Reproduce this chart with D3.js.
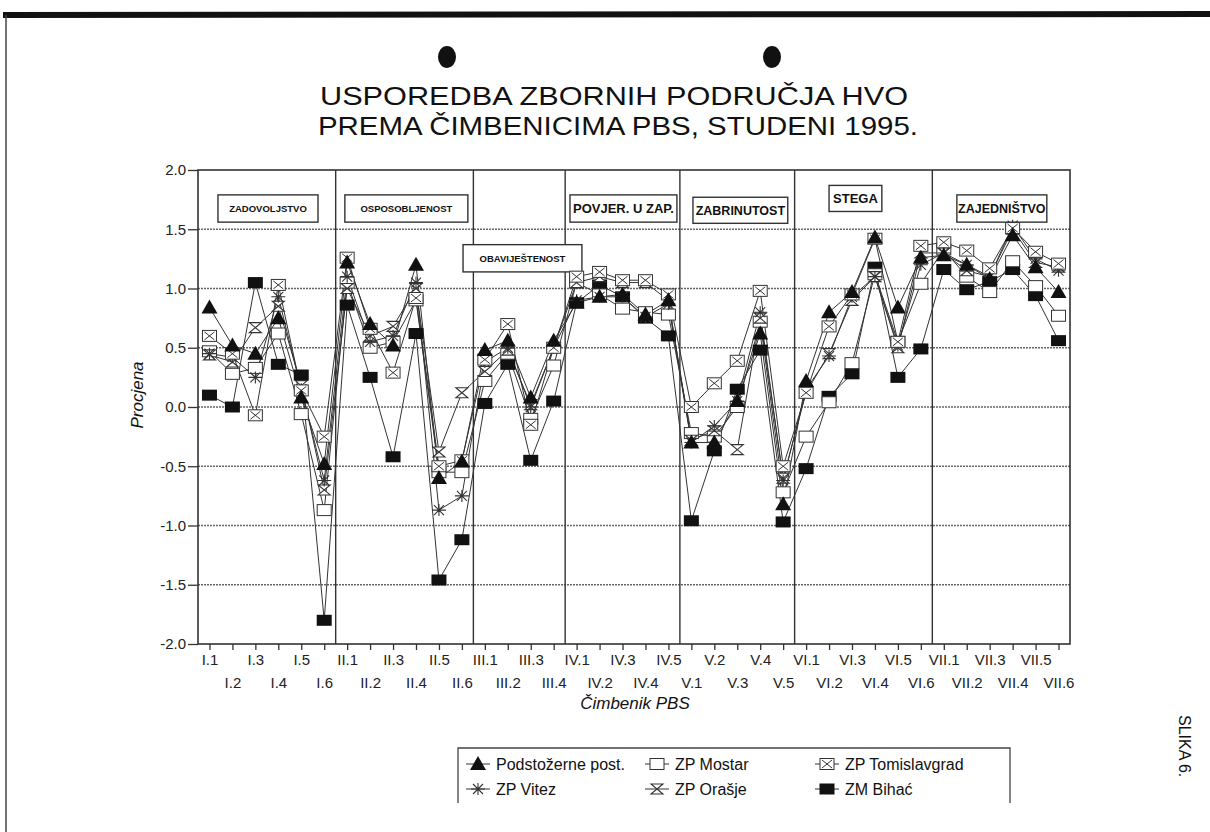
<!DOCTYPE html>
<html>
<head>
<meta charset="utf-8">
<script src="https://d3js.org/d3.v7.min.js"></script>
<style>
  body { margin: 0; background: #fff; }
  svg { font-family: "Liberation Sans", Arial, sans-serif; }
</style>
</head>
<body>
<div id="chart"></div>
<script>
// categories (factors) and sections
var sections = [
  { name: "ZADOVOLJSTVO", roman: "I", n: 6 },
  { name: "OSPOSOBLJENOST", roman: "II", n: 6 },
  { name: "OBAVIJEŠTENOST", roman: "III", n: 4 },
  { name: "POVJER. U ZAP.", roman: "IV", n: 5 },
  { name: "ZABRINUTOST", roman: "V", n: 5 },
  { name: "STEGA", roman: "VI", n: 6 },
  { name: "ZAJEDNIŠTVO", roman: "VII", n: 6 }
];

var categories = [
  "I.1", "I.2", "I.3", "I.4", "I.5", "I.6",
  "II.1", "II.2", "II.3", "II.4", "II.5", "II.6",
  "III.1", "III.2", "III.3", "III.4",
  "IV.1", "IV.2", "IV.3", "IV.4", "IV.5",
  "V.1", "V.2", "V.3", "V.4", "V.5",
  "VI.1", "VI.2", "VI.3", "VI.4", "VI.5", "VI.6",
  "VII.1", "VII.2", "VII.3", "VII.4", "VII.5", "VII.6"
];

var yTicks = [2.0, 1.5, 1.0, 0.5, 0.0, -0.5, -1.0, -1.5, -2.0];

// series values
var podstozerne = [0.84, 0.52, 0.45, 0.75, 0.08, -0.48, 1.22, 0.70, 0.52, 1.20, -0.60, -0.46, 0.48, 0.56, 0.08, 0.56,
  0.88, 0.93, 0.95, 0.78, 0.90, -0.30, -0.30, 0.05, 0.62, -0.82, 0.22, 0.80, 0.97, 1.43, 0.84, 1.26,
  1.28, 1.20, 1.08, 1.45, 1.18, 0.97];
var vitez = [0.45, 0.42, 0.25, 0.93, 0.15, -0.62, 1.10, 0.55, 0.60, 1.05, -0.87, -0.75, 0.38, 0.50, 0.00, 0.50,
  0.90, 0.93, 0.93, 0.76, 0.87, -0.30, -0.16, 0.05, 0.80, -0.62, 0.15, 0.43, 0.93, 1.10, 0.52, 1.20,
  1.30, 1.20, 1.10, 1.53, 1.25, 1.15];
var mostar = [0.47, 0.28, 0.33, 0.62, -0.06, -0.87, 1.05, 0.50, 0.55, 0.90, -0.55, -0.55, 0.22, 0.45, -0.10, 0.35,
  1.05, 0.95, 0.83, 0.80, 0.78, -0.22, -0.25, 0.00, 0.72, -0.72, -0.25, 0.04, 0.37, 1.12, 0.55, 1.04,
  1.33, 1.10, 0.97, 1.23, 1.02, 0.77];
var orasje = [0.44, 0.38, 0.67, 0.85, 0.18, -0.70, 1.00, 0.60, 0.68, 1.00, -0.38, 0.12, 0.30, 0.48, 0.02, 0.50,
  1.05, 1.10, 1.05, 1.05, 0.90, -0.28, -0.20, -0.36, 0.75, -0.60, 0.12, 0.45, 0.90, 1.10, 0.50, 1.30,
  1.30, 1.15, 1.10, 1.50, 1.22, 1.18];
var tomislavgrad = [0.60, 0.45, -0.07, 1.03, 0.14, -0.25, 1.26, 0.66, 0.29, 0.92, -0.50, -0.45, 0.40, 0.70, -0.15, 0.50,
  1.10, 1.14, 1.07, 1.07, 0.95, 0.00, 0.20, 0.39, 0.98, -0.50, 0.12, 0.68, 0.95, 1.42, 0.55, 1.36,
  1.39, 1.32, 1.17, 1.51, 1.31, 1.21];
var bihac = [0.10, 0.00, 1.05, 0.36, 0.27, -1.80, 0.86, 0.25, -0.42, 0.62, -1.46, -1.12, 0.03, 0.36, -0.45, 0.05,
  0.88, 1.03, 0.93, 0.75, 0.60, -0.96, -0.37, 0.15, 0.48, -0.97, -0.52, 0.09, 0.28, 1.18, 0.25, 0.49,
  1.16, 0.99, 1.06, 1.16, 0.94, 0.56];

var seriesNames = ["Podstožerne post.", "ZP Vitez", "ZP Mostar", "ZP Orašje", "ZP Tomislavgrad", "ZM Bihać"];
var seriesValues = [podstozerne, vitez, mostar, orasje, tomislavgrad, bihac];
var seriesMarks = ["triangle", "asterisk", "square", "hourglass", "xsquare", "filled"];

// layout
var W = 1210, H = 832;
var plot = { left: 198, right: 1070, top: 170, bottom: 644 };

var svg = d3.select("#chart").append("svg")
  .attr("width", W).attr("height", H);

// scanned page edges
svg.append("line").attr("x1", 3).attr("x2", W).attr("y1", 15).attr("y2", 14)
  .attr("stroke", "#111").attr("stroke-width", 6);
svg.append("line").attr("x1", 6).attr("x2", 6).attr("y1", 15).attr("y2", H)
  .attr("stroke", "#444").attr("stroke-width", 1.5);

// punch holes
[447, 772].forEach(function(cx) {
  svg.append("ellipse").attr("cx", cx).attr("cy", 57).attr("rx", 9).attr("ry", 11).attr("fill", "#111");
});

// title (squeezed to the scanned width)
svg.append("text").attr("x", 320).attr("y", 105).attr("textLength", 588)
  .attr("lengthAdjust", "spacingAndGlyphs").style("font-size", "26px").attr("fill", "#111")
  .text("USPOREDBA ZBORNIH PODRUČJA HVO");
svg.append("text").attr("x", 318).attr("y", 135).attr("textLength", 600)
  .attr("lengthAdjust", "spacingAndGlyphs").style("font-size", "26px").attr("fill", "#111")
  .text("PREMA ČIMBENICIMA PBS, STUDENI 1995.");

// scales
var xScale = d3.scalePoint().domain(categories).range([plot.left, plot.right]).padding(0.5);
var yScale = d3.scaleLinear().domain([-2, 2]).range([plot.bottom, plot.top]);
var step = xScale.step();

// gridlines
svg.append("g").selectAll("line")
  .data(yTicks.filter(function(d) { return d > -2 && d < 2; }))
  .enter().append("line")
  .attr("x1", plot.left).attr("x2", plot.right)
  .attr("y1", function(d) { return yScale(d); })
  .attr("y2", function(d) { return yScale(d); })
  .attr("stroke", "#666").attr("stroke-width", 1.6).attr("stroke-dasharray", "2,1");

// section dividers
var start = 0;
var dividers = [];
sections.forEach(function(s, i) {
  start += s.n;
  if (i < sections.length - 1) dividers.push(start);
});
svg.append("g").selectAll("line").data(dividers).enter().append("line")
  .attr("x1", function(d) { return xScale(categories[d]) - step / 2; })
  .attr("x2", function(d) { return xScale(categories[d]) - step / 2; })
  .attr("y1", plot.top).attr("y2", plot.bottom)
  .attr("stroke", "#333").attr("stroke-width", 1.4);

// frame
svg.append("rect").attr("x", plot.left).attr("y", plot.top)
  .attr("width", plot.right - plot.left).attr("height", plot.bottom - plot.top)
  .attr("fill", "none").attr("stroke", "#333").attr("stroke-width", 1.6);

// section label boxes: [x0, x1] in category steps from first point, [y0, y1] in values
var boxes = [
  { i: 0, x: [0.37, 4.73], y: [1.79, 1.56], size: 9.5 },
  { i: 1, x: [5.9, 11.26], y: [1.79, 1.56], size: 9.5 },
  { i: 2, x: [11.05, 16.23], y: [1.37, 1.14], size: 9.5 },
  { i: 3, x: [15.71, 20.37], y: [1.79, 1.56], size: 13 },
  { i: 4, x: [21.07, 25.2], y: [1.77, 1.55], size: 12.5 },
  { i: 5, x: [27.0, 29.3], y: [1.87, 1.65], size: 13 },
  { i: 6, x: [32.57, 36.49], y: [1.79, 1.56], size: 12.5 }
];
var x0 = xScale(categories[0]);
var boxG = svg.append("g").selectAll("g").data(boxes).enter().append("g");
boxG.append("rect")
  .attr("x", function(d) { return x0 + d.x[0] * step; })
  .attr("y", function(d) { return yScale(d.y[0]); })
  .attr("width", function(d) { return (d.x[1] - d.x[0]) * step; })
  .attr("height", function(d) { return yScale(d.y[1]) - yScale(d.y[0]); })
  .attr("fill", "#fff").attr("stroke", "#333").attr("stroke-width", 1.4);
boxG.append("text")
  .attr("x", function(d) { return x0 + (d.x[0] + d.x[1]) / 2 * step; })
  .attr("y", function(d) { return (yScale(d.y[0]) + yScale(d.y[1])) / 2; })
  .attr("dy", "0.36em").attr("text-anchor", "middle")
  .style("font-size", function(d) { return d.size + "px"; })
  .style("font-weight", "bold").attr("fill", "#111")
  .text(function(d) { return sections[d.i].name; });

// axes
var yAxis = d3.axisLeft(yScale).tickValues(yTicks).tickSize(10).tickPadding(2)
  .tickFormat(function(d) { return d.toFixed(1); });
var yAxisG = svg.append("g").attr("transform", "translate(" + plot.left + ",0)").call(yAxis);
yAxisG.select(".domain").remove();
yAxisG.selectAll("line").attr("stroke", "#333").attr("stroke-width", 1.3);
yAxisG.selectAll("text").style("font-size", "15px").attr("fill", "#222").attr("font-family", null);

var xAxis = d3.axisBottom(xScale).tickSize(6).tickPadding(9);
var xAxisG = svg.append("g").attr("transform", "translate(0," + plot.bottom + ")").call(xAxis);
xAxisG.select(".domain").remove();
xAxisG.selectAll("line").attr("stroke", "#333").attr("stroke-width", 1.3);
xAxisG.selectAll("text").style("font-size", "15px").attr("fill", "#222").attr("font-family", null)
  .attr("dy", function(d, i) { return i % 2 ? "1.95em" : "0.4em"; });

// axis titles
svg.append("text").attr("x", 635).attr("y", 709).attr("text-anchor", "middle")
  .style("font-size", "17px").style("font-style", "italic").attr("fill", "#111")
  .text("Čimbenik PBS");
svg.append("text").attr("transform", "translate(143,395) rotate(-90)").attr("text-anchor", "middle")
  .style("font-size", "17px").style("font-style", "italic").attr("fill", "#111")
  .text("Procjena");

// marker drawing
function drawMark(g, type) {
  if (type === "triangle") {
    g.append("path").attr("d", "M0,-8L8,6L-8,6Z").attr("fill", "#111");
  } else if (type === "filled") {
    g.append("rect").attr("x", -7.5).attr("y", -5.5).attr("width", 15).attr("height", 11).attr("fill", "#111");
  } else if (type === "square") {
    g.append("rect").attr("x", -7).attr("y", -5.5).attr("width", 14).attr("height", 11)
      .attr("fill", "#fff").attr("stroke", "#333").attr("stroke-width", 1);
  } else if (type === "xsquare") {
    g.append("rect").attr("x", -7).attr("y", -5.5).attr("width", 14).attr("height", 11)
      .attr("fill", "#fff").attr("stroke", "#333").attr("stroke-width", 1);
    g.append("path").attr("d", "M-5,-4L5,4M-5,4L5,-4").attr("stroke", "#333").attr("stroke-width", 1);
  } else if (type === "hourglass") {
    g.append("path").attr("d", "M-6,-5H6L-6,5H6Z").attr("fill", "#fff")
      .attr("stroke", "#333").attr("stroke-width", 1.1);
  } else if (type === "asterisk") {
    g.append("path").attr("d", "M-7,0H7M0,-6V6M-5,-5L5,5M-5,5L5,-5")
      .attr("stroke", "#333").attr("stroke-width", 1.1);
  }
}

// lines
var line = d3.line()
  .x(function(d, i) { return xScale(categories[i]); })
  .y(function(d) { return yScale(d); });

svg.append("g").selectAll("path").data(seriesValues).enter().append("path")
  .attr("d", line).attr("fill", "none").attr("stroke", "#333").attr("stroke-width", 1);

// markers
var order = [5, 2, 3, 1, 4, 0];
order.forEach(function(s) {
  svg.append("g").selectAll("g").data(seriesValues[s]).enter().append("g")
    .attr("transform", function(d, i) {
      return "translate(" + xScale(categories[i]) + "," + yScale(d) + ")";
    })
    .each(function() { drawMark(d3.select(this), seriesMarks[s]); });
});

// legend
var legendCols = [478, 657, 827];
var legendRows = [764, 789];
var legendPos = [[0, 0], [0, 1], [1, 0], [1, 1], [2, 0], [2, 1]];
svg.append("path").attr("d", "M458,803V748H1010V803").attr("fill", "none")
  .attr("stroke", "#444").attr("stroke-width", 1.3);
var lg = svg.append("g").selectAll("g").data(seriesNames).enter().append("g")
  .attr("transform", function(d, i) {
    return "translate(" + legendCols[legendPos[i][0]] + "," + legendRows[legendPos[i][1]] + ")";
  });
lg.append("line").attr("x1", -12).attr("x2", 12).attr("stroke", "#333").attr("stroke-width", 1);
lg.each(function(d, i) { drawMark(d3.select(this), seriesMarks[i]); });
lg.append("text").attr("x", 18).attr("dy", "0.36em").style("font-size", "16px").attr("fill", "#111")
  .text(function(d) { return d; });

// figure caption
svg.append("text").attr("transform", "translate(1179,715) rotate(90)")
  .style("font-size", "16px").attr("fill", "#111").text("SLIKA 6.");
</script>
</body>
</html>
